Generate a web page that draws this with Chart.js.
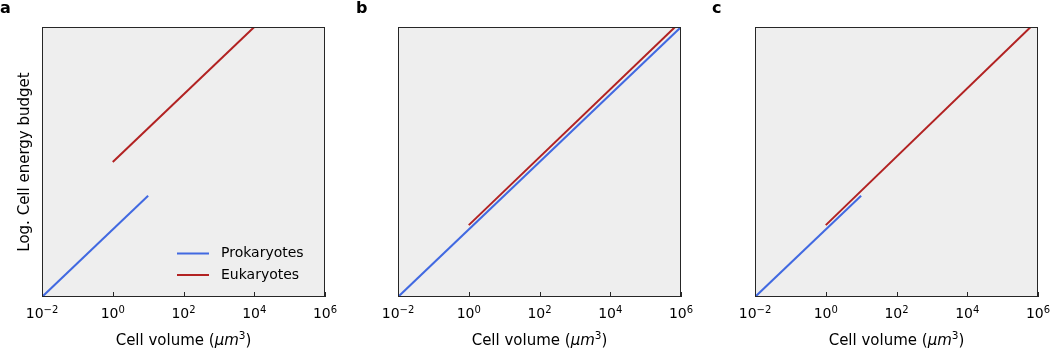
<!DOCTYPE html>
<html>
<head>
<meta charset="utf-8">
<script src="https://cdn.jsdelivr.net/npm/chart.js@4"></script>
<style>
  body { margin: 0; background: #fff; font-family: "DejaVu Sans", sans-serif; }
  #wrap { position: relative; width: 1050px; height: 349px; }
  .panel { position: absolute; top: 0; height: 349px; }
  .letter { position: absolute; top: 0; font-size: 16px; line-height: 16px; font-weight: bold; color: #000; }
</style>
</head>
<body>
<div id="wrap">
  <div class="panel" style="left:0;width:345px"><canvas id="chartA"></canvas></div>
  <div class="panel" style="left:350px;width:350px"><canvas id="chartB"></canvas></div>
  <div class="panel" style="left:705px;width:345px"><canvas id="chartC"></canvas></div>
  <span class="letter" style="left:0">a</span>
  <span class="letter" style="left:356px">b</span>
  <span class="letter" style="left:712px">c</span>
</div>
<script>
// data block (x = cell volume, y = log energy budget, arbitrary units)
const seriesNames = ['Prokaryotes', 'Eukaryotes'];
const xTicks = [1e-2, 1e0, 1e2, 1e4, 1e6];
const xTickExp = ['\u22122', '0', '2', '4', '6'];

const prokA_x = [0.01, 10];
const prokA_y = [0, 3];
const eukA_x = [1, 10000];
const eukA_y = [4, 8];

const prokB_x = [0.01, 1000000];
const prokB_y = [0, 8];
const eukB_x = [1, 680000];
const eukB_y = [2.13, 8];

const prokC_x = [0.01, 10];
const prokC_y = [0, 3];
const eukC_x = [1, 620000];
const eukC_y = [2.13, 8];

const blue = '#4169e1';
const red = '#b22222';
const font = '"DejaVu Sans"';

const pts = (xs, ys) => xs.map((x, i) => ({ x, y: ys[i] }));

// background, frame and inward ticks
const framePlugin = {
    id: 'frame',
    beforeDatasetsDraw(chart) {
        const { ctx, chartArea: a } = chart;
        ctx.save();
        ctx.fillStyle = '#eeeeee';
        ctx.fillRect(a.left, a.top, a.right - a.left, a.bottom - a.top);
        ctx.restore();
    },
    afterDatasetsDraw(chart) {
        const { ctx, chartArea: a } = chart;
        const xs = chart.scales.x;
        ctx.save();
        ctx.strokeStyle = '#262626';
        ctx.lineWidth = 1;
        ctx.strokeRect(a.left + 0.5, a.top + 0.5, a.right - a.left - 1, a.bottom - a.top - 1);
        ctx.beginPath();
        xTicks.forEach(v => {
            const px = Math.round(xs.getPixelForValue(v)) + 0.5;
            ctx.moveTo(px, a.bottom);
            ctx.lineTo(px, a.bottom - 5);
        });
        ctx.stroke();
        ctx.restore();
    }
};

// tick labels 10^n and the x axis title, with raised exponents
const xLabelPlugin = {
    id: 'xLabels',
    afterDraw(chart) {
        const { ctx, chartArea: a } = chart;
        const xs = chart.scales.x;
        ctx.save();
        ctx.fillStyle = '#000';
        ctx.textBaseline = 'alphabetic';
        ctx.textAlign = 'left';
        const base = a.bottom + 21;
        xTicks.forEach((v, i) => {
            ctx.font = '14px ' + font;
            const wb = ctx.measureText('10').width;
            ctx.font = '10px ' + font;
            const we = ctx.measureText(xTickExp[i]).width;
            const x0 = xs.getPixelForValue(v) - (wb + we) / 2;
            ctx.font = '14px ' + font;
            ctx.fillText('10', x0, base);
            ctx.font = '10px ' + font;
            ctx.fillText(xTickExp[i], x0 + wb, base - 5.5);
        });
        // title: Cell volume (μm³)
        const parts = [
            { t: 'Cell volume (', f: '15px ' + font, dy: 0 },
            { t: '\u03BCm', f: 'italic 15px ' + font, dy: 0 },
            { t: '3', f: '10.5px ' + font, dy: -6 },
            { t: ')', f: '15px ' + font, dy: 0 }
        ];
        let total = 0;
        parts.forEach(p => { ctx.font = p.f; p.w = ctx.measureText(p.t).width; total += p.w; });
        let x = (a.left + a.right) / 2 - total / 2;
        const tb = a.bottom + 48;
        parts.forEach(p => { ctx.font = p.f; ctx.fillText(p.t, x, tb + p.dy); x += p.w; });
        ctx.restore();
    }
};

// legend drawn inside the plot, bottom right (panel a only)
const innerLegend = {
    id: 'innerLegend',
    afterDraw(chart) {
        const { ctx, chartArea: a } = chart;
        const rows = [a.bottom - 43.5, a.bottom - 22];
        ctx.save();
        ctx.font = '14px ' + font;
        ctx.textBaseline = 'middle';
        ctx.textAlign = 'left';
        chart.data.datasets.forEach((ds, i) => {
            ctx.strokeStyle = ds.borderColor;
            ctx.lineWidth = 2;
            ctx.beginPath();
            ctx.moveTo(a.right - 148, rows[i]);
            ctx.lineTo(a.right - 116, rows[i]);
            ctx.stroke();
            ctx.fillStyle = '#000';
            ctx.fillText(ds.label, a.right - 104, rows[i]);
        });
        ctx.restore();
    }
};

function makeConfig(prok, euk, yWidth, padRight, showYTitle, plugins) {
    return {
        type: 'line',
        data: {
            datasets: [
                { label: seriesNames[0], data: prok, borderColor: blue, borderWidth: 2, pointRadius: 0, clip: 0 },
                { label: seriesNames[1], data: euk, borderColor: red, borderWidth: 2, pointRadius: 0, clip: 0 }
            ]
        },
        options: {
            responsive: true,
            maintainAspectRatio: false,
            animation: false,
            layout: { padding: { left: 0, top: 27, right: padRight, bottom: 0 } },
            scales: {
                x: {
                    type: 'logarithmic',
                    min: 0.01,
                    max: 1000000,
                    afterBuildTicks: s => { s.ticks = xTicks.map(v => ({ value: v })); },
                    afterFit: s => { s.height = 52; },
                    grid: { display: false, drawTicks: false },
                    border: { display: false },
                    ticks: { display: false }
                },
                y: {
                    min: 0,
                    max: 8,
                    afterFit: s => { s.width = yWidth; },
                    grid: { display: false, drawTicks: false },
                    border: { display: false },
                    ticks: { display: false },
                    title: {
                        display: showYTitle,
                        text: 'Log. Cell energy budget',
                        color: '#000',
                        font: { family: 'DejaVu Sans', size: 15 },
                        padding: { top: 16.3, bottom: 0 }
                    }
                }
            },
            plugins: {
                legend: { display: false },
                tooltip: { enabled: false }
            }
        },
        plugins: plugins
    };
}

// render init block
const chartA = new Chart(document.getElementById('chartA'),
    makeConfig(pts(prokA_x, prokA_y), pts(eukA_x, eukA_y), 42, 20, true, [framePlugin, xLabelPlugin, innerLegend]));
const chartB = new Chart(document.getElementById('chartB'),
    makeConfig(pts(prokB_x, prokB_y), pts(eukB_x, eukB_y), 48, 19, false, [framePlugin, xLabelPlugin]));
const chartC = new Chart(document.getElementById('chartC'),
    makeConfig(pts(prokC_x, prokC_y), pts(eukC_x, eukC_y), 50, 12, false, [framePlugin, xLabelPlugin]));
</script>
</body>
</html>
